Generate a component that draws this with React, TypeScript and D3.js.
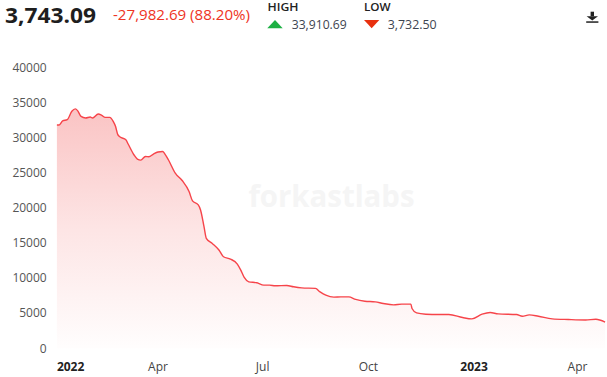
import React from "react";
import * as d3 from "d3";

const dates: string[] = [
  "2022-01-03","2022-01-05","2022-01-08","2022-01-12","2022-01-16","2022-01-19","2022-01-21","2022-01-24",
  "2022-01-28","2022-02-01","2022-02-03","2022-02-08","2022-02-11","2022-02-14","2022-02-18","2022-02-21",
  "2022-02-23","2022-02-25","2022-02-27","2022-03-04","2022-03-06","2022-03-11","2022-03-14","2022-03-17",
  "2022-03-21","2022-03-24","2022-03-28","2022-04-01","2022-04-05","2022-04-07","2022-04-10","2022-04-16",
  "2022-04-22","2022-04-28","2022-05-01","2022-05-06","2022-05-08","2022-05-11","2022-05-13","2022-05-18",
  "2022-05-24","2022-05-28","2022-06-03","2022-06-09","2022-06-12","2022-06-15","2022-06-19","2022-06-26",
  "2022-07-02","2022-07-07","2022-07-12","2022-07-22","2022-07-28","2022-08-04","2022-08-16","2022-08-20",
  "2022-08-25","2022-09-01","2022-09-07","2022-09-14","2022-09-20","2022-09-28","2022-10-07","2022-10-14",
  "2022-10-23","2022-10-30","2022-11-07","2022-11-08","2022-11-12","2022-11-20","2022-12-01","2022-12-10",
  "2022-12-22","2022-12-30","2023-01-08","2023-01-15","2023-01-22","2023-02-07","2023-02-12","2023-02-18",
  "2023-02-26","2023-03-10","2023-03-24","2023-04-08","2023-04-17","2023-04-25",
];
const values: number[] = [
  31800,31800,32400,32570,33760,34100,33860,33040,
  32810,32950,32810,33380,33190,32900,32900,32330,
  31620,30430,30100,29710,29100,27570,26960,26810,
  27330,27290,27670,27960,28040,27670,26860,24960,
  23900,22330,21000,20430,19710,17330,15670,14960,
  14000,13040,12710,12000,11140,10100,9470,9330,
  9000,9000,8900,8950,8760,8610,8530,8040,
  7570,7290,7330,7330,6960,6710,6620,6380,
  6190,6290,6290,5670,5040,4860,4810,4810,
  4380,4190,4860,5100,4900,4810,4570,4760,
  4570,4190,4100,4040,4140,3743.09,
];
const yTicks: number[] = [0, 5000, 10000, 15000, 20000, 25000, 30000, 35000, 40000];
const xTickDates: string[] = ["2022-01-01", "2022-04-01", "2022-07-01", "2022-10-01", "2023-01-01", "2023-04-01"];
const xTickLabels: string[] = ["2022", "Apr", "Jul", "Oct", "2023", "Apr"];
const xTickBold: boolean[] = [true, false, false, false, true, false];

const headerPrice = "3,743.09";
const headerChange = "-27,982.69 (88.20%)";
const highLabel = "HIGH";
const highValue = "33,910.69";
const lowLabel = "LOW";
const lowValue = "3,732.50";
const watermark = "forkastlabs";

const FONT = "'Open Sans', 'Noto Sans', sans-serif";

export default function App() {
  const W = 607, H = 377;
  const parse = d3.timeParse("%Y-%m-%d");
  const data = dates.map((d, i) => ({ date: parse(d) as Date, value: values[i] }));
  const x = d3.scaleTime()
    .domain([parse("2022-01-01") as Date, parse("2023-04-01") as Date])
    .range([54.6, 577.5]);
  const y = d3.scaleLinear().domain([0, 40000]).range([348.3, 67.5]);
  const line = d3.line<{ date: Date; value: number }>()
    .x(d => x(d.date)).y(d => y(d.value)).curve(d3.curveMonotoneX);
  const area = d3.area<{ date: Date; value: number }>()
    .x(d => x(d.date)).y0(y(0)).y1(d => y(d.value)).curve(d3.curveMonotoneX);
  const maxV = d3.max(values) as number;
  const plotLeft = x(data[0].date);

  return (
    <svg width={W} height={H} style={{ position: "absolute", left: 0, top: 0, background: "#fff" }}>
      <defs>
        <linearGradient id="fillGrad" gradientUnits="userSpaceOnUse" x1="0" y1={y(maxV)} x2="0" y2={y(0)}>
          <stop offset="0" stopColor="rgb(242,90,90)" stopOpacity={0.36} />
          <stop offset="0.5" stopColor="rgb(242,90,90)" stopOpacity={0.16} />
          <stop offset="1" stopColor="rgb(242,90,90)" stopOpacity={0.01} />
        </linearGradient>
      </defs>
      <rect x={0} y={0} width={W} height={H} fill="#fff" />

      {/* header */}
      <text x={5} y={23.3} fontFamily={FONT} fontWeight={700} fontSize={21} fill="#1e1e1e"
        textLength={91} lengthAdjust="spacingAndGlyphs">{headerPrice}</text>
      <text x={113} y={20.3} fontFamily={FONT} fontSize={14.5} fill="#ee3424"
        textLength={137} lengthAdjust="spacingAndGlyphs">{headerChange}</text>
      <text x={267.5} y={10.8} fontFamily={FONT} fontWeight={600} fontSize={11.5} fill="#222"
        textLength={31} lengthAdjust="spacingAndGlyphs">{highLabel}</text>
      <path d="M267.3,28.3 L282.7,28.3 L275,20 Z" fill="#1db043" />
      <text x={291.7} y={29} fontFamily={FONT} fontSize={12.5} fill="#3d4450"
        textLength={55} lengthAdjust="spacingAndGlyphs">{highValue}</text>
      <text x={364} y={10.8} fontFamily={FONT} fontWeight={600} fontSize={11.5} fill="#222"
        textLength={26.7} lengthAdjust="spacingAndGlyphs">{lowLabel}</text>
      <path d="M364,20 L379.3,20 L371.7,28.3 Z" fill="#e8300f" />
      <text x={387.7} y={29} fontFamily={FONT} fontSize={12.5} fill="#3d4450"
        textLength={49} lengthAdjust="spacingAndGlyphs">{lowValue}</text>
      <g fill="#222">
        <rect x={590.6} y={11.7} width={3.4} height={4.6} />
        <path d="M586.6,16.2 L598,16.2 L592.3,20.6 Z" />
        <rect x={586.2} y={21.3} width={12.2} height={1.5} />
      </g>

      {/* watermark */}
      <text x={331.5} y={206.5} textAnchor="middle" fontFamily={FONT} fontWeight={700} fontSize={31}
        fill="#f5f5f5" textLength={166} lengthAdjust="spacingAndGlyphs">{watermark}</text>

      {/* y axis labels */}
      {yTicks.map(t => (
        <text key={t} x={46.7} y={y(t)} dy="0.35em" textAnchor="end" fontFamily={FONT} fontSize={12}
          fill="#555">{t}</text>
      ))}

      {/* x axis labels */}
      {xTickDates.map((d, i) => {
        const px = x(parse(d) as Date);
        const first = px < plotLeft + 10;
        return (
          <text key={d} x={first ? plotLeft : px} y={370.7} textAnchor={first ? "start" : "middle"}
            fontFamily={FONT} fontSize={12} fontWeight={xTickBold[i] ? 700 : 400}
            fill={xTickBold[i] ? "#222" : "#444"}>{xTickLabels[i]}</text>
        );
      })}

      <path d={area(data) || ""} fill="url(#fillGrad)" />
      <path d={line(data) || ""} fill="none" stroke="#f6444a" strokeWidth={1.4} strokeLinejoin="round" />
    </svg>
  );
}
